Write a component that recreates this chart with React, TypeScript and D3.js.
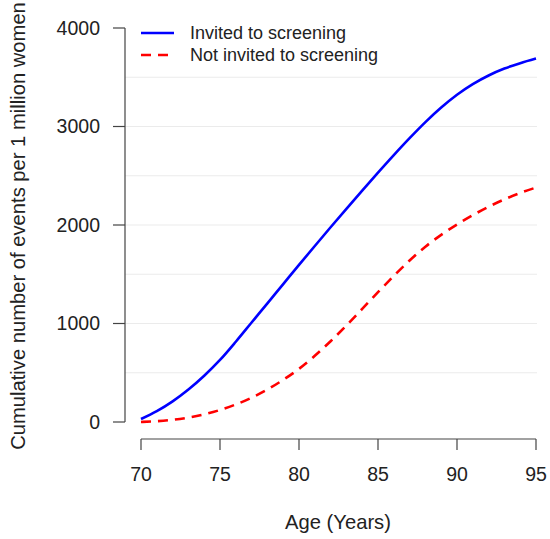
import React from "react";
import * as d3 from "d3";

const ages = [70,71,72,73,74,75,76,77,78,79,80,81,82,83,84,85,86,87,88,89,90,91,92,93,94,95];
const invited = [30,110,210,330,470,630,815,1010,1205,1400,1595,1787,1977,2164,2349,2531,2709,2881,3044,3192,3322,3430,3518,3588,3643,3690];
const notInvited = [0,8,22,45,78,122,178,247,330,428,540,672,820,980,1148,1318,1483,1640,1780,1900,2005,2100,2185,2260,2325,2380];
const xTicks = [70,75,80,85,90,95];
const yTicks = [0,1000,2000,3000,4000];
const gridValues = [500,1000,1500,2000,2500,3000,3500];
const seriesNames = ["Invited to screening","Not invited to screening"];

const W = 550, H = 539;
const FONT = "'Liberation Sans', Arial, Helvetica, sans-serif";

export default function App() {
  const x = d3.scaleLinear().domain([70, 95]).range([141, 536]);
  const y = d3.scaleLinear().domain([0, 4000]).range([422, 28]);
  const line = (vals: number[]) =>
    d3.line<number>().x((_, i) => x(ages[i])).y(v => y(v)).curve(d3.curveMonotoneX)(vals) || "";
  const axisColor = "#444";
  return (
    <svg width={W} height={H} style={{ position: "absolute", left: 0, top: 0, background: "#fff" }} fontFamily={FONT}>
      <rect width={W} height={H} fill="#fff" />
      {gridValues.map(v => (
        <line key={v} x1={125} x2={537} y1={y(v)} y2={y(v)} stroke="#ebebeb" strokeWidth={1.2} />
      ))}
      {/* y axis */}
      <line x1={125} x2={125} y1={y(0)} y2={y(4000)} stroke={axisColor} strokeWidth={1.2} />
      {yTicks.map(t => (
        <g key={t}>
          <line x1={113} x2={125} y1={y(t)} y2={y(t)} stroke={axisColor} strokeWidth={1.2} />
          <text x={100} y={y(t)} dy="0.35em" textAnchor="end" fontSize={19.5} fill="#222">{t}</text>
        </g>
      ))}
      {/* x axis */}
      <line x1={x(70)} x2={x(95)} y1={439} y2={439} stroke={axisColor} strokeWidth={1.2} />
      {xTicks.map(t => (
        <g key={t}>
          <line x1={x(t)} x2={x(t)} y1={439} y2={450} stroke={axisColor} strokeWidth={1.2} />
          <text x={x(t)} y={481} textAnchor="middle" fontSize={19.5} fill="#222">{t}</text>
        </g>
      ))}
      <text x={338} y={529} textAnchor="middle" fontSize={20.2} fill="#222">Age (Years)</text>
      <text transform={`translate(25,226) rotate(-90)`} textAnchor="middle" fontSize={20.2} fill="#222">
        Cumulative number of events per 1 million women
      </text>
      {/* lines */}
      <path d={line(notInvited)} fill="none" stroke="#ff0000" strokeWidth={2.6} strokeDasharray="10,7" />
      <path d={line(invited)} fill="none" stroke="#0000ff" strokeWidth={2.6} />
      {/* legend */}
      <line x1={141} x2={174} y1={33} y2={33} stroke="#0000ff" strokeWidth={2.6} />
      <text x={190} y={33} dy="0.35em" fontSize={18} fill="#222">{seriesNames[0]}</text>
      <line x1={141} x2={174} y1={55} y2={55} stroke="#ff0000" strokeWidth={2.6} strokeDasharray="10,7" />
      <text x={190} y={55} dy="0.35em" fontSize={18} fill="#222">{seriesNames[1]}</text>
    </svg>
  );
}
